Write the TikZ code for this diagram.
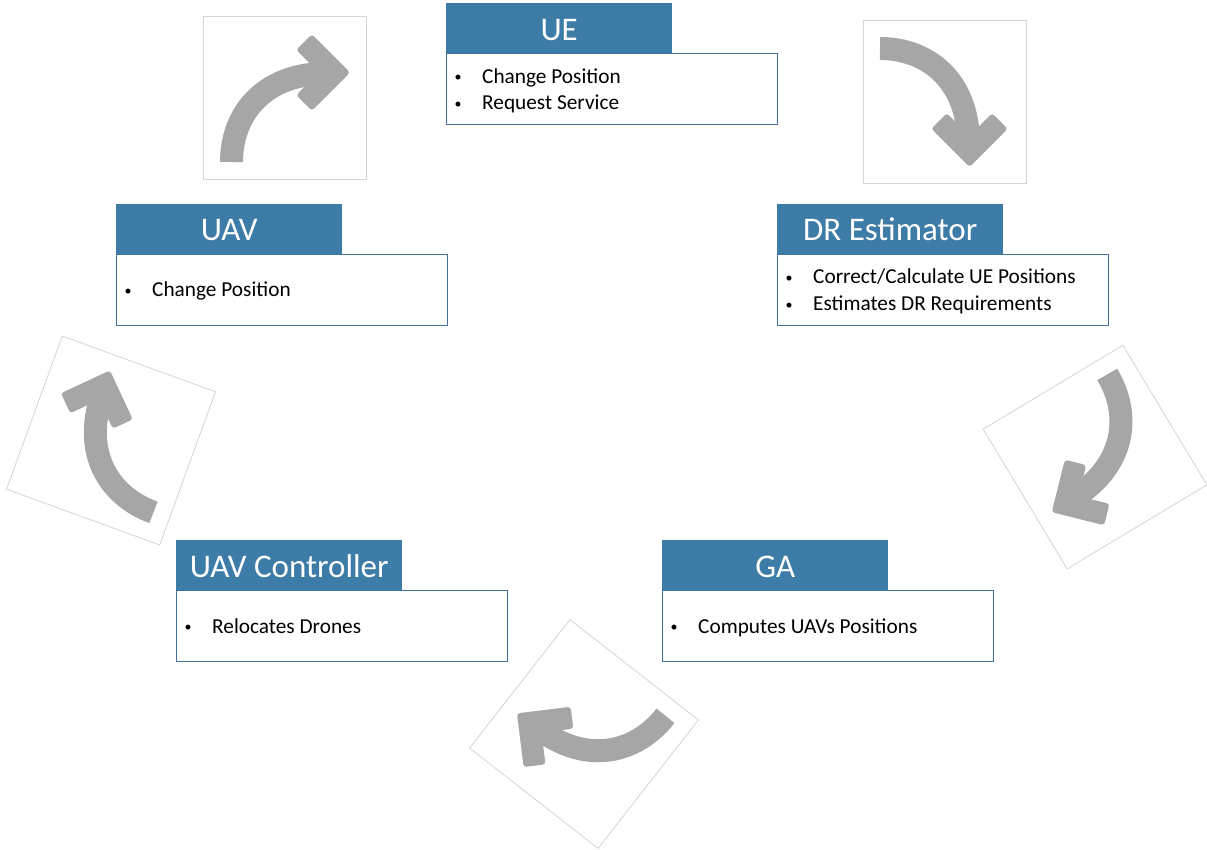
\documentclass[tikz,border=0pt]{standalone}
\usepackage{fontspec}
\setmainfont{Carlito}
\definecolor{hdrblue}{RGB}{62,124,168}
\definecolor{boxline}{RGB}{65,113,156}
\definecolor{arrowgray}{RGB}{166,166,166}
\definecolor{framegray}{RGB}{212,212,212}
\tikzset{
  header/.style={fill=hdrblue, draw=none, minimum width=226pt, minimum height=50pt,
    inner sep=0pt, text=white, font=\fontsize{33}{38}\selectfont,
    text height=26pt, text depth=2pt, anchor=north west},
  body/.style={fill=white, draw=boxline, line width=1.3pt, minimum width=331pt,
    minimum height=71pt, inner sep=0pt, anchor=north west},
  bullets/.style={anchor=west, inner sep=0pt, font=\fontsize{21.3}{26.7}\selectfont},
}
% small bullet mark used in the box lists
\newcommand{\itembul}{\hspace*{8.5pt}\raisebox{1.2pt}{\fontsize{14}{14}\selectfont\textbullet}}
\newcommand{\bulletlist}[1]{\begin{tabular}{@{}p{36pt}@{}l@{}}#1\end{tabular}}
% curved arrow icon in a thin square frame, drawn around the local origin
\newcommand{\drawturnarrow}{%
  \draw[framegray, line width=0.8pt] (-81.5,-81.5) rectangle (81.5,81.5);
  \draw[arrowgray, line width=23pt]
    (-53,64.5) .. controls (-53,17.5) and (-22,-23) .. (40,-24);
  \fill[arrowgray, rounded corners=3pt]
    (11.7,-47.6) -- (27.3,-63.2) -- (65.5,-25) -- (27.3,13.2)
    -- (11.7,-2.4) -- (34.4,-25) -- cycle;
}
\begin{document}
\begin{tikzpicture}[x=1pt, y=-1pt]
\useasboundingbox (0,0) rectangle (1207,849);

% ---- process boxes ----
\node[body] (ueb) at (446,53) {};
\node[header] (ueh) at (446,3) {UE};
\node[bullets] (uel) at ([yshift=-2pt]ueb.west)
  {\bulletlist{\itembul & Change Position\\ \itembul & Request Service}};

\node[body] (drb) at (777,253.5) {};
\node[header] (drh) at (777,203.5) {DR Estimator};
\node[bullets] (drl) at ([yshift=-2pt]drb.west)
  {\bulletlist{\itembul & Correct/Calculate UE Positions\\ \itembul & Estimates DR Requirements}};

\node[body] (gab) at (662,589.5) {};
\node[header] (gah) at (662,540) {GA};
\node[bullets] (gal) at ([yshift=-2pt]gab.west)
  {\bulletlist{\itembul & Computes UAVs Positions}};

\node[body] (ucb) at (176,589.5) {};
\node[header] (uch) at (176,540) {UAV Controller};
\node[bullets] (ucl) at ([yshift=-2pt]ucb.west)
  {\bulletlist{\itembul & Relocates Drones}};

\node[body] (uavb) at (116,253.5) {};
\node[header] (uavh) at (116,203.5) {UAV};
\node[bullets] (uavl) at ([yshift=-2pt]uavb.west)
  {\bulletlist{\itembul & Change Position}};

% ---- cycle arrows between the stages ----
\begin{scope}[shift={(284.5,97.5)}]
  \drawturnarrow
\end{scope}
\begin{scope}[shift={(944.5,101.5)}, rotate=-90]
  \drawturnarrow
\end{scope}
\begin{scope}[shift={(1095,457)}, rotate=-149]
  \drawturnarrow
\end{scope}
\begin{scope}[shift={(584,734)}, rotate=-218]
  \drawturnarrow
\end{scope}
\begin{scope}[shift={(111,440.5)}, rotate=-290]
  \drawturnarrow
\end{scope}
\end{tikzpicture}
\end{document}
